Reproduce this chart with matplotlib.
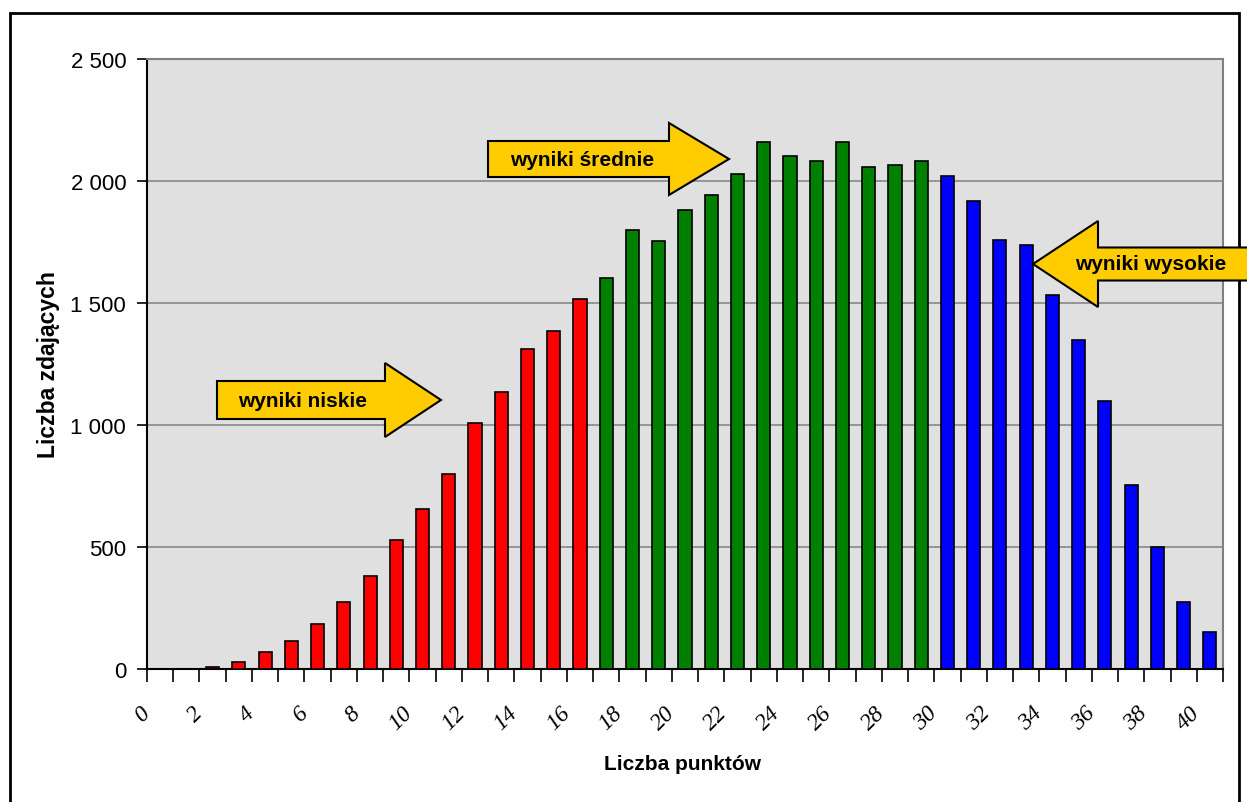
import matplotlib
matplotlib.use("Agg")
import matplotlib.pyplot as plt
import matplotlib.transforms as mtransforms
from matplotlib.patches import Polygon, Rectangle
from matplotlib.ticker import FuncFormatter
import numpy as np

# Liczba punktów (0..40) and number of candidates per score
points = list(range(41))
counts = [0, 0, 8, 28, 70, 115, 185, 275, 380, 530,
          655, 800, 1008, 1135, 1312, 1385, 1516, 1602, 1800, 1754,
          1881, 1943, 2029, 2160, 2102, 2082, 2160, 2057, 2066, 2082,
          2020, 1918, 1758, 1738, 1533, 1348, 1098, 754, 500, 275,
          152]
# score bands: low <= 16, medium 17..29, high >= 30
low_max = 16
mid_max = 29
band_colors = {"low": "#FF0000", "mid": "#008000", "high": "#0000FF"}
y_ticks = [0, 500, 1000, 1500, 2000, 2500]

W, H = 1247, 803
fig = plt.figure(figsize=(W / 100, H / 100), dpi=100)
fig.patch.set_facecolor("white")


def px(x, y):
    """pixel position (from top-left) -> figure fraction"""
    return (x / W, 1 - y / H)


ax = fig.add_axes([147 / W, 1 - 670 / H, 1076 / W, 610 / H])
ax.set_facecolor("#E0E0E0")

colors = [band_colors["low"] if p <= low_max else
          band_colors["mid"] if p <= mid_max else band_colors["high"]
          for p in points]
ax.bar(points, counts, width=0.5, color=colors, edgecolor="black",
       linewidth=1.2, zorder=3)

ax.set_xlim(-0.5, 40.5)
ax.set_ylim(0, 2500)
ax.set_yticks(y_ticks)
ax.yaxis.set_major_formatter(FuncFormatter(
    lambda v, _: f"{int(v):,}".replace(",", " ")))
ax.yaxis.grid(True, color="#808080", linewidth=1.1, zorder=1)
ax.set_axisbelow(True)

# x ticks: marks on category boundaries, labels every second category
ax.set_xticks(points[::2])
ax.set_xticklabels([str(p) for p in points[::2]])
ax.set_xticks(np.arange(-0.5, 41, 1.0), minor=True)
ax.tick_params(axis="x", which="major", length=0, pad=24, labelsize=17,
               labelrotation=45, labelfontfamily="Liberation Serif")
ax.tick_params(axis="x", which="minor", length=9, width=1.2, color="black",
               direction="out")
ax.tick_params(axis="y", length=7, width=1.2, color="black", pad=8,
               labelsize=16, labelfontfamily="Liberation Sans")

offset = mtransforms.ScaledTranslation(-6 / 100, 0, fig.dpi_scale_trans)
for lab in ax.get_xticklabels():
    lab.set_ha("right")
    lab.set_va("top")
    lab.set_style("italic")
    lab.set_transform(lab.get_transform() + offset)

for side in ("left", "bottom"):
    ax.spines[side].set_color("black")
    ax.spines[side].set_linewidth(1.5)
for side in ("top", "right"):
    ax.spines[side].set_color("#808080")
    ax.spines[side].set_linewidth(1.5)

ax.set_xlabel("Liczba punktów", fontsize=15, fontweight="bold",
              family="Liberation Sans")
ax.set_ylabel("Liczba zdających", fontsize=16.5, fontweight="bold",
              family="Liberation Sans")
ax.xaxis.set_label_coords(683 / W, 1 - 765 / H, transform=fig.transFigure)
ax.xaxis.label.set_va("center")
ax.yaxis.set_label_coords(49 / W, 1 - 365 / H, transform=fig.transFigure)
ax.yaxis.label.set_va("center")


def block_arrow(x0, xb, tip, yc, hb, hh):
    pts = [(x0, yc - hb), (xb, yc - hb), (xb, yc - hh), (tip, yc),
           (xb, yc + hh), (xb, yc + hb), (x0, yc + hb)]
    poly = Polygon([px(x, y) for x, y in pts], closed=True,
                   transform=fig.transFigure, facecolor="#FFCC00",
                   edgecolor="black", linewidth=1.5, clip_on=False, zorder=5)
    fig.patches.append(poly)


block_arrow(217, 385, 441, 401, 19, 37)
block_arrow(488, 669, 729, 160, 18, 36)
block_arrow(1262, 1098, 1033, 265, 16.5, 43)

for label, (x, y) in [("wyniki niskie", (303, 402)),
                      ("wyniki średnie", (582, 160)),
                      ("wyniki wysokie", (1151, 265))]:
    fig.text(*px(x, y), label, ha="center", va="center", fontsize=15,
             fontweight="bold", family="Liberation Sans", zorder=6)

# outer chart frame
frame = Rectangle(px(10, 830), (1239 - 10) / W, (830 - 14) / H,
                  transform=fig.transFigure, fill=False, edgecolor="black",
                  linewidth=2, clip_on=False)
fig.patches.append(frame)

fig.savefig("out.png", dpi=100, facecolor="white")
